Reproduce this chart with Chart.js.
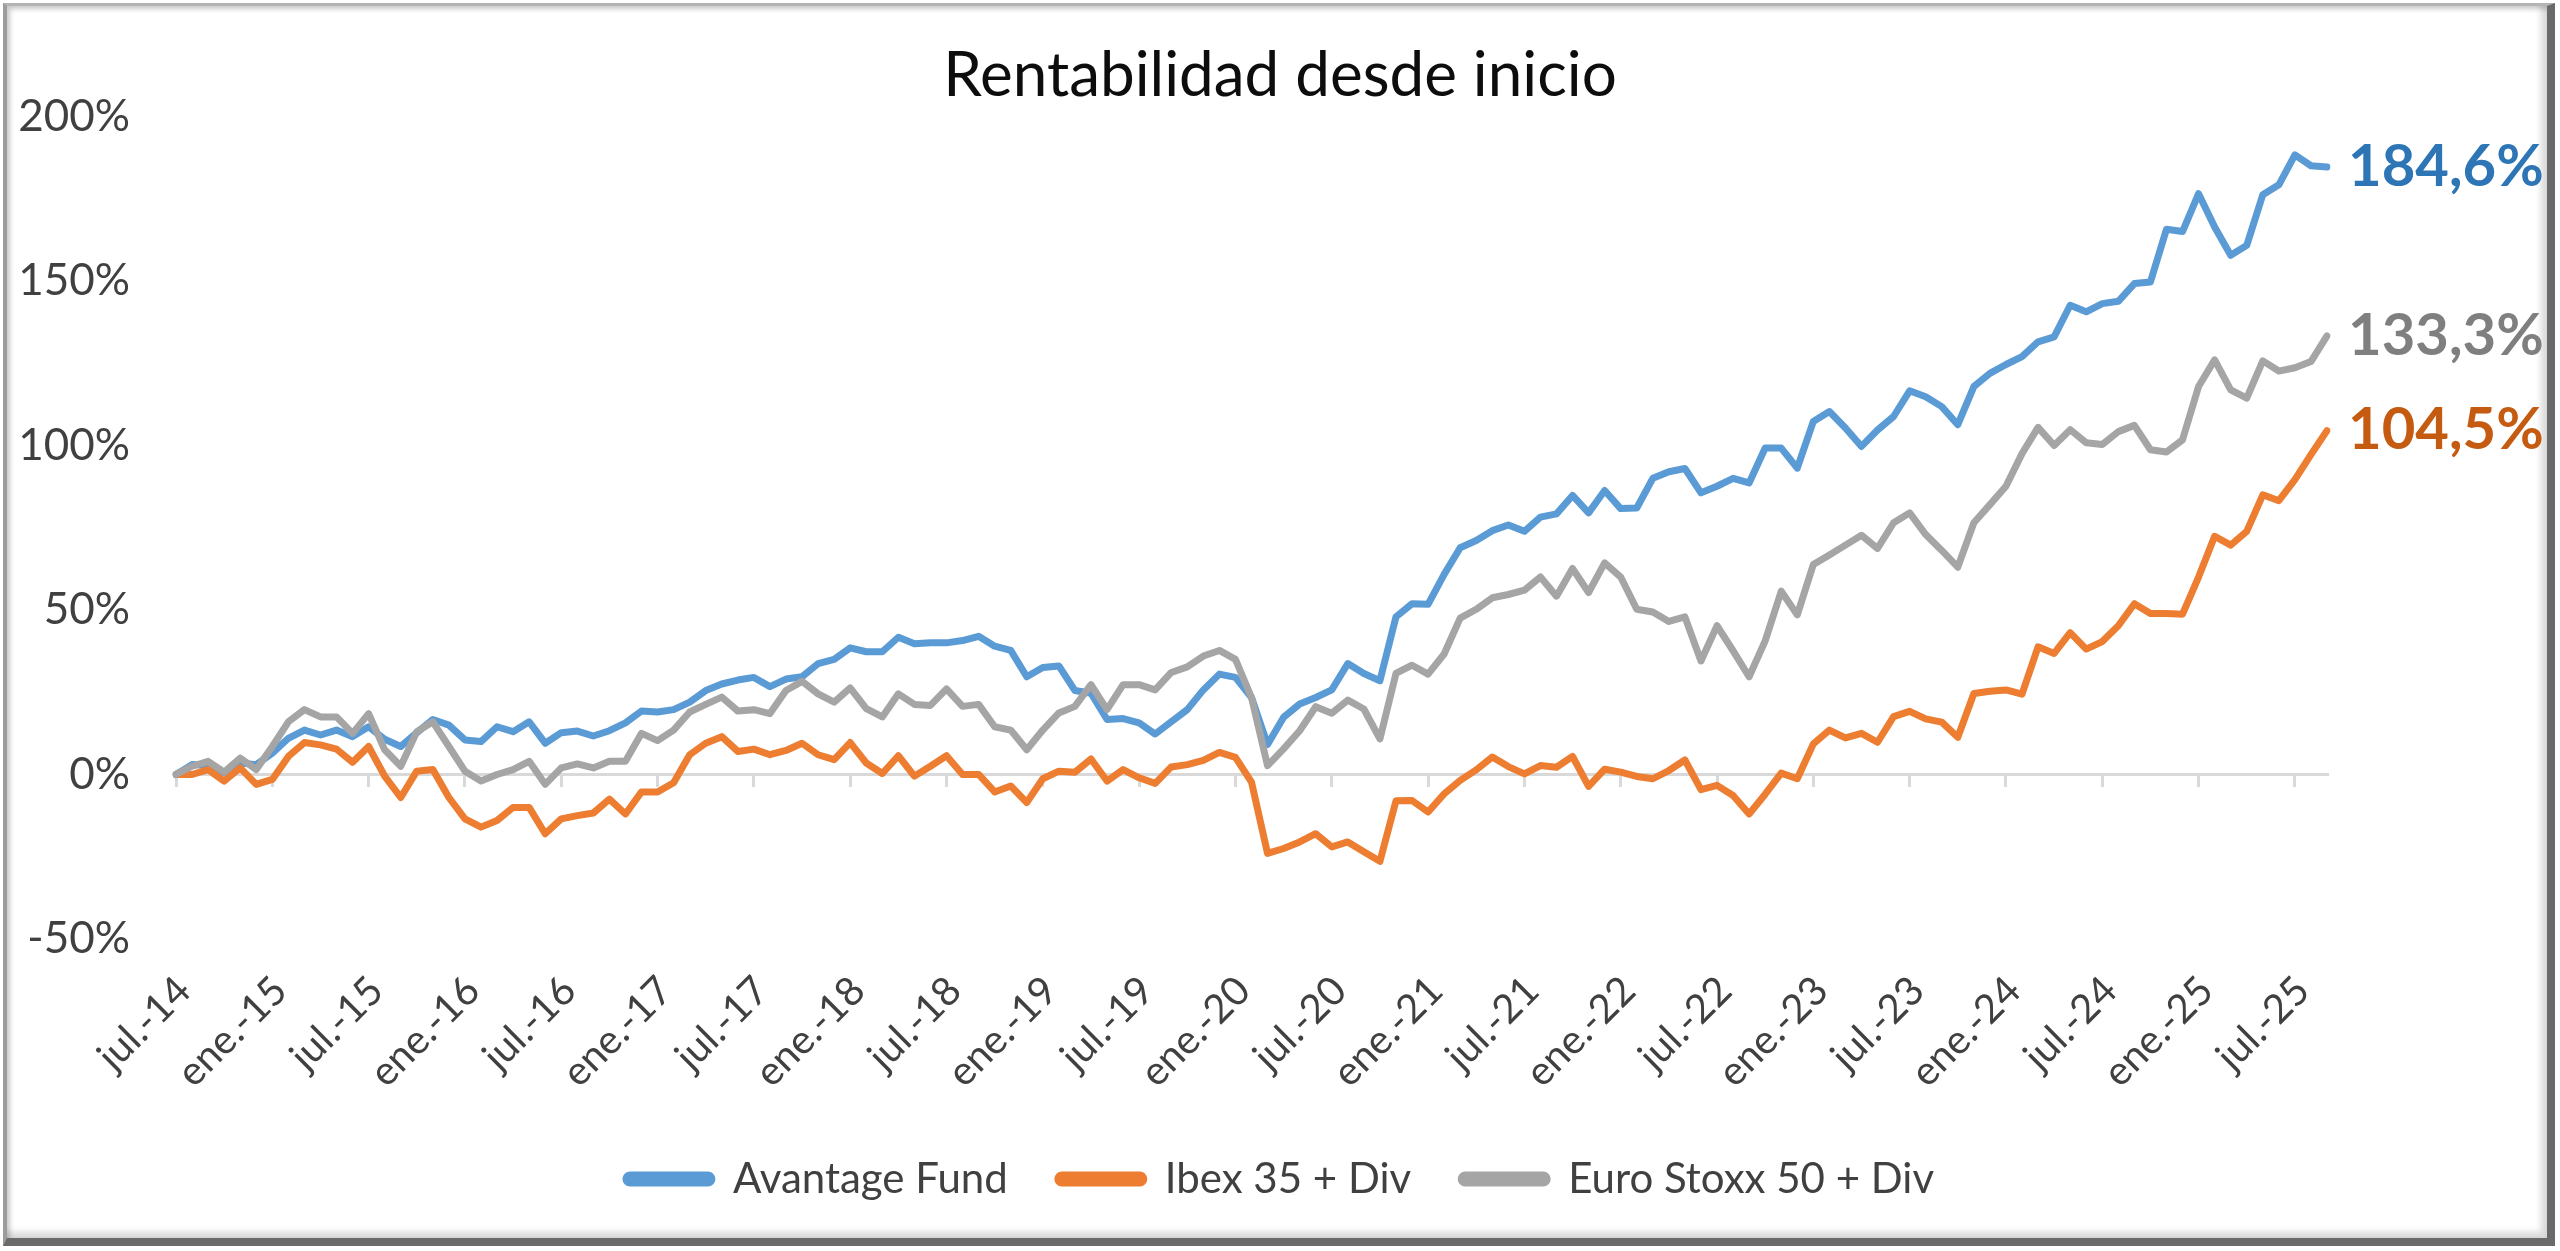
<!DOCTYPE html>
<html>
<head>
<meta charset="utf-8">
<title>Rentabilidad desde inicio</title>
<script src="https://cdn.jsdelivr.net/npm/chart.js@4.4.1/dist/chart.umd.min.js"></script>
<style>
  html, body { margin: 0; padding: 0; background: #fff; }
  #wrap { position: relative; width: 2560px; height: 1251px; overflow: hidden; background: #fff; }
  #frame {
    position: absolute; left: 3px; top: 3px; width: 2540px; height: 1232px;
    border-top: 3px solid #b4b4b4; border-left: 4px solid #9c9c9c;
    border-right: 8px solid #6a6a6a; border-bottom: 8px solid #6a6a6a;
    box-shadow: inset 3px 3px 5px rgba(0,0,0,0.22), inset -6px -6px 6px rgba(0,0,0,0.15);
  }
  #chart { position: absolute; left: 0; top: 0; }
</style>
</head>
<body>
<div id="wrap">
  <div id="frame"></div>
  <canvas id="chart" width="2560" height="1251"></canvas>
</div>
<script>
// --- Categories (monthly, jul.-14 -> sep.-25) ---
const months = [
  'jul.-14','ago.-14','sep.-14','oct.-14','nov.-14','dic.-14',
  'ene.-15','feb.-15','mar.-15','abr.-15','may.-15','jun.-15','jul.-15','ago.-15','sep.-15','oct.-15','nov.-15','dic.-15',
  'ene.-16','feb.-16','mar.-16','abr.-16','may.-16','jun.-16','jul.-16','ago.-16','sep.-16','oct.-16','nov.-16','dic.-16',
  'ene.-17','feb.-17','mar.-17','abr.-17','may.-17','jun.-17','jul.-17','ago.-17','sep.-17','oct.-17','nov.-17','dic.-17',
  'ene.-18','feb.-18','mar.-18','abr.-18','may.-18','jun.-18','jul.-18','ago.-18','sep.-18','oct.-18','nov.-18','dic.-18',
  'ene.-19','feb.-19','mar.-19','abr.-19','may.-19','jun.-19','jul.-19','ago.-19','sep.-19','oct.-19','nov.-19','dic.-19',
  'ene.-20','feb.-20','mar.-20','abr.-20','may.-20','jun.-20','jul.-20','ago.-20','sep.-20','oct.-20','nov.-20','dic.-20',
  'ene.-21','feb.-21','mar.-21','abr.-21','may.-21','jun.-21','jul.-21','ago.-21','sep.-21','oct.-21','nov.-21','dic.-21',
  'ene.-22','feb.-22','mar.-22','abr.-22','may.-22','jun.-22','jul.-22','ago.-22','sep.-22','oct.-22','nov.-22','dic.-22',
  'ene.-23','feb.-23','mar.-23','abr.-23','may.-23','jun.-23','jul.-23','ago.-23','sep.-23','oct.-23','nov.-23','dic.-23',
  'ene.-24','feb.-24','mar.-24','abr.-24','may.-24','jun.-24','jul.-24','ago.-24','sep.-24','oct.-24','nov.-24','dic.-24',
  'ene.-25','feb.-25','mar.-25','abr.-25','may.-25','jun.-25','jul.-25','ago.-25','sep.-25'
];

// --- Series (rentabilidad acumulada, %) ---
const avantage = [
  0, 3, 2.7, 0.5, 3.5, 3,
  6.5, 11, 13.5, 12, 13.5, 11.5, 14.5, 10.7, 8.5, 12.7, 16.7, 15,
  10.5, 10, 14.5, 13, 16, 9.5, 12.7, 13.2, 11.7, 13.3, 15.7, 19.3,
  19, 19.7, 22, 25.5, 27.5, 28.7, 29.5, 26.7, 29, 29.7, 33.7, 35,
  38.5, 37.3, 37.3, 41.7, 39.7, 40, 40, 40.7, 42, 39, 37.7, 29.7,
  32.5, 33, 25.5, 24.7, 16.7, 17, 15.7, 12.3, 16, 19.7, 25.7, 30.5,
  29.5, 23.4, 9.1, 17.4, 21.4, 23.4, 25.7, 33.7, 30.7, 28.5, 47.9, 51.9,
  51.7, 60.8, 68.9, 71.1, 74.1, 75.8, 73.9, 78.2, 79.2, 84.8, 79.5, 86.3,
  80.8, 81, 90, 92, 93, 85.6, 87.6, 90, 88.6, 99.2, 99.2, 93.1,
  107.3, 110.3, 105.3, 99.7, 104.7, 108.8, 116.6, 114.8, 111.8, 106.3, 117.9, 121.9,
  124.6, 127, 131.5, 133, 142.6, 140.6, 143.1, 143.8, 149.2, 149.7, 165.7, 165,
  176.5, 166.4, 157.8, 160.8, 176.2, 179.2, 188.3, 185, 184.6
];
const ibex = [
  0, 0, 1.5, -2, 2, -3,
  -1.5, 5.5, 9.7, 9, 7.7, 3.7, 8.5, -0.5, -7, 1, 1.5, -7,
  -13.5, -16, -14, -10, -10, -18, -13.5, -12.5, -11.7, -7.5, -12, -5.3,
  -5.3, -2.5, 6, 9.5, 11.5, 7, 7.7, 6, 7.3, 9.5, 6, 4.5,
  9.7, 3.5, 0.3, 5.7, -0.5, 2.5, 5.7, 0, 0, -5.3, -3.5, -8.5,
  -1.3, 1, 0.7, 4.7, -2, 1.5, -1, -2.7, 2.3, 3, 4.3, 6.7,
  5.2, -2.3, -24, -22.5, -20.5, -18, -22, -20.5, -23.5, -26.4, -8, -7.9,
  -11.4, -5.9, -1.8, 1.4, 5.3, 2.4, 0.2, 2.7, 2.2, 5.5, -3.6, 1.6,
  0.7, -0.6, -1.3, 1.2, 4.4, -4.6, -3.3, -6.4, -12, -6, 0.4, -1.3,
  9.3, 13.5, 11.1, 12.5, 9.8, 17.6, 19.2, 16.9, 15.9, 11.3, 24.6, 25.3,
  25.7, 24.4, 38.8, 36.8, 43.1, 38.1, 40.4, 45.2, 51.9, 48.9, 48.9, 48.7,
  60, 72.4, 69.7, 73.9, 85, 83.2, 89.6, 97.2, 104.5
];
const euroStoxx = [
  0, 2.5, 4, 0.7, 5, 1.5,
  8.5, 16, 19.7, 17.5, 17.5, 12.5, 18.5, 7.5, 2.5, 13, 16, 8.5,
  1, -2, 0, 1.5, 4, -3, 2, 3.2, 2, 4, 4, 12.5,
  10.3, 13.5, 19, 21.3, 23.5, 19.3, 19.7, 18.5, 25.5, 28.3, 24.5, 22,
  26.3, 20, 17.5, 24.5, 21.3, 21, 26, 20.7, 21.3, 14.5, 13.5, 7.5,
  13.5, 18.7, 20.7, 27.3, 19.7, 27.3, 27.3, 25.7, 31, 32.7, 36, 37.7,
  35, 23.4, 2.7, 7.8, 13.3, 20.6, 18.6, 22.6, 19.9, 10.8, 30.7, 33.2,
  30.5, 36.6, 47.5, 50.2, 53.7, 54.7, 56, 60, 54.2, 62.6, 55.3, 64.3,
  60, 50.2, 49.4, 46.5, 47.9, 34.5, 45.2, 37.6, 29.7, 40.6, 55.7, 48.5,
  63.8, 66.7, 69.7, 72.7, 68.7, 76.5, 79.5, 72.9, 68.1, 63, 76.5, 82,
  87.6, 97.5, 105.5, 100, 104.8, 100.8, 100.3, 104.2, 106.1, 98.7, 98, 101.7,
  117.9, 126, 116.9, 114.4, 125.7, 122.6, 123.6, 125.5, 133.3
];

const seriesNames = ['Avantage Fund', 'Ibex 35 + Div', 'Euro Stoxx 50 + Div'];
const lineColors = ['#5B9BD5', '#ED7D31', '#A5A5A5'];
const endColors = ['#2E75B6', '#C55A11', '#7F7F7F'];
const yTicks = [-50, 0, 50, 100, 150, 200];

const FONT = 'Lato, "Open Sans", sans-serif';

// --- Etiquetas finales (último valor de cada serie) ---
const endLabels = {
  id: 'endLabels',
  afterDatasetsDraw(chart) {
    const { ctx, chartArea } = chart;
    ctx.save();
    ctx.font = 'bold 58px ' + FONT;
    ctx.textAlign = 'left';
    ctx.textBaseline = 'middle';
    chart.data.datasets.forEach((ds, i) => {
      const pts = chart.getDatasetMeta(i).data;
      const last = pts[pts.length - 1];
      const v = ds.data[ds.data.length - 1];
      ctx.fillStyle = endColors[i];
      ctx.fillText(v.toFixed(1).replace('.', ',') + '%', chartArea.right + 21, last.y);
    });
    ctx.restore();
  }
};

const datasets = [avantage, ibex, euroStoxx].map((d, i) => ({
  label: seriesNames[i],
  data: d,
  xAxisID: 'x',
  yAxisID: 'y',
  borderColor: lineColors[i],
  backgroundColor: lineColors[i],
  borderWidth: 7,
  borderJoinStyle: 'round',
  borderCapStyle: 'round',
  pointRadius: 0,
  tension: 0,
  fill: false,
  order: 3 - i
}));

new Chart(document.getElementById('chart'), {
  type: 'line',
  data: { labels: months, datasets },
  options: {
    responsive: false,
    animation: false,
    layout: { padding: { top: 10, left: 0, right: 0, bottom: 41 } },
    plugins: {
      title: {
        display: true,
        text: 'Rentabilidad desde inicio',
        color: '#0d0d0d',
        font: { family: FONT, size: 62, weight: 'normal' },
        padding: { top: 29, bottom: 3 }
      },
      legend: {
        position: 'bottom',
        labels: {
          color: '#404040',
          font: { family: FONT, size: 42 },
          boxWidth: 86,
          boxHeight: 8,
          useBorderRadius: true,
          borderRadius: 4,
          padding: 50,
          sort: (a, b) => a.datasetIndex - b.datasetIndex
        }
      },
      tooltip: { enabled: false }
    },
    scales: {
      x: {
        type: 'category',
        position: 'bottom',
        offset: false,
        grid: { display: false, drawTicks: false },
        border: { display: false },
        ticks: {
          autoSkip: false,
          minRotation: 45,
          maxRotation: 45,
          padding: 28,
          labelOffset: 8,
          color: '#404040',
          font: { family: FONT, size: 40 },
          callback: (v, i) => (i % 6 === 0 ? months[i] : null)
        },
        afterFit: s => { s.height = 169; }
      },
      x2: {
        type: 'category',
        axis: 'x',
        labels: months,
        position: { y: 0 },
        offset: false,
        ticks: { display: false },
        grid: {
          drawOnChartArea: false,
          drawTicks: true,
          tickLength: 11,
          lineWidth: 3,
          color: c => (c.index % 6 === 0 ? '#d9d9d9' : 'rgba(0,0,0,0)')
        },
        border: { display: true, color: '#d9d9d9', width: 3 }
      },
      y: {
        min: -50,
        max: 200,
        afterBuildTicks: s => { s.ticks = yTicks.map(v => ({ value: v })); },
        grid: { display: false, drawTicks: false },
        border: { display: false },
        ticks: {
          padding: 46,
          color: '#404040',
          font: { family: FONT, size: 44 },
          callback: v => v + '%'
        },
        afterFit: s => { s.width = 176; }
      },
      // reserve room on the right for the end labels
      yRight: {
        type: 'linear',
        axis: 'y',
        position: 'right',
        min: -50,
        max: 200,
        grid: { display: false, drawTicks: false },
        border: { display: false },
        ticks: { display: false },
        afterFit: s => { s.width = 233; }
      }
    }
  },
  plugins: [endLabels]
});
</script>
</body>
</html>
